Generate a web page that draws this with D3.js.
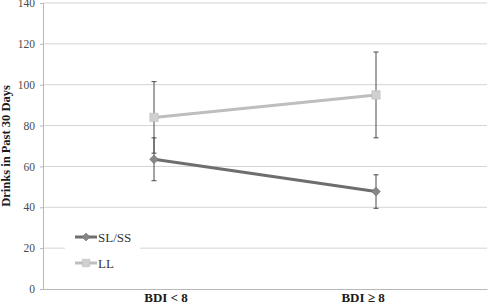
<!DOCTYPE html>
<html lang="en">
<head>
    <meta charset="UTF-8">
    <title>Drinks in Past 30 Days</title>
    <script src="https://d3js.org/d3.v7.min.js"></script>
    <style>
        body { margin: 0; background: #fff; }
        text { font-family: "Liberation Serif", "Times New Roman", serif; }
    </style>
</head>
<body>
    <svg width="490" height="305"></svg>

    <script>
        // data
        const categories = ["BDI < 8", "BDI \u2265 8"];
        const seriesNames = ["SL/SS", "LL"];
        const slssMeans = [63.5, 47.7];
        const slssErrors = [10.5, 8.2];
        const llMeans = [84, 95];
        const llErrors = [17.5, 21];
        const yTicks = [0, 20, 40, 60, 80, 100, 120, 140];

        const svg = d3.select('svg');
        const margin = {left: 43, right: 3, top: 3, bottom: 16};
        const width = +svg.attr('width');
        const height = +svg.attr('height');

        const x = d3.scaleBand()
            .domain(categories)
            .range([margin.left, width - margin.right]);
        const y = d3.scaleLinear()
            .domain([0, 140])
            .range([height - margin.bottom, margin.top]);

        // gridlines
        svg.append('g')
            .selectAll('line')
            .data(yTicks.filter(d => d > 0))
            .join('line')
            .attr('x1', margin.left).attr('x2', width - margin.right)
            .attr('y1', d => y(d)).attr('y2', d => y(d))
            .attr('stroke', '#d4d4d4').attr('stroke-width', 1);

        // y axis
        const yAxis = svg.append('g')
            .attr('transform', `translate(${margin.left},0)`)
            .call(d3.axisLeft(y).tickValues(yTicks).tickSize(3).tickPadding(5));
        yAxis.select('.domain').attr('stroke', '#b8b8b8');
        yAxis.selectAll('.tick line').attr('stroke', '#b8b8b8');
        yAxis.selectAll('text').attr('font-size', 11.5).attr('fill', '#4a4a4a');

        // x axis (labels sit a little inward from the category centres, as in the figure)
        const xAxis = svg.append('g')
            .attr('transform', `translate(0,${y(0)})`)
            .call(d3.axisBottom(x).tickSize(0).tickPadding(4));
        xAxis.select('.domain').attr('stroke', '#b8b8b8');
        xAxis.selectAll('text')
            .attr('font-size', 13).attr('font-weight', 'bold').attr('fill', '#1a1a1a')
            .attr('dx', (d, i) => i === 0 ? 12 : -13);

        svg.append('text')
            .attr('transform', `translate(10,${y(70)}) rotate(-90)`)
            .attr('text-anchor', 'middle')
            .attr('font-size', 12.5).attr('font-weight', 'bold').attr('fill', '#1a1a1a')
            .text('Drinks in Past 30 Days');

        const series = [
            {name: seriesNames[0], means: slssMeans, errors: slssErrors, line: '#6e6e6e', fill: '#878787', shape: d3.symbolSquare, rot: 45, size: 38},
            {name: seriesNames[1], means: llMeans, errors: llErrors, line: '#bebebe', fill: '#d0d0d0', shape: d3.symbolSquare, rot: 0, size: 70}
        ];
        const cx = c => x(c) + x.bandwidth() / 2;

        // lines
        series.forEach(s => {
            svg.append('path')
                .datum(categories.map((c, i) => [cx(c), y(s.means[i])]))
                .attr('d', d3.line())
                .attr('fill', 'none')
                .attr('stroke', s.line)
                .attr('stroke-width', 3);
        });

        // error bars
        series.forEach(s => {
            const g = svg.append('g').attr('stroke', '#4a4a4a').attr('stroke-width', 1);
            categories.forEach((c, i) => {
                const lo = y(s.means[i] - s.errors[i]);
                const hi = y(s.means[i] + s.errors[i]);
                g.append('line').attr('x1', cx(c)).attr('x2', cx(c)).attr('y1', lo).attr('y2', hi);
                [lo, hi].forEach(v => g.append('line')
                    .attr('x1', cx(c) - 2.5).attr('x2', cx(c) + 2.5).attr('y1', v).attr('y2', v));
            });
        });

        // markers
        series.forEach(s => {
            svg.append('g')
                .selectAll('path')
                .data(categories)
                .join('path')
                .attr('transform', (c, i) => `translate(${cx(c)},${y(s.means[i])}) rotate(${s.rot})`)
                .attr('d', d3.symbol().type(s.shape).size(s.size))
                .attr('fill', s.fill)
                .attr('stroke', s.line).attr('stroke-width', 0.6);
        });

        // legend
        const legend = svg.append('g').attr('transform', 'translate(65,216)');
        legend.append('rect').attr('width', 75).attr('height', 64).attr('fill', '#fff');
        series.forEach((s, i) => {
            const row = legend.append('g').attr('transform', `translate(0,${21 + i * 26})`);
            row.append('line').attr('x1', 10).attr('x2', 32)
                .attr('stroke', s.line).attr('stroke-width', 3);
            row.append('path').attr('transform', `translate(21,0) rotate(${s.rot})`)
                .attr('d', d3.symbol().type(s.shape).size(s.size * 0.8))
                .attr('fill', s.fill).attr('stroke', s.line).attr('stroke-width', 0.6);
            row.append('text').attr('x', 33).attr('y', 4.5)
                .attr('font-size', 13).attr('fill', '#333')
                .text(s.name);
        });
    </script>
</body>
</html>
